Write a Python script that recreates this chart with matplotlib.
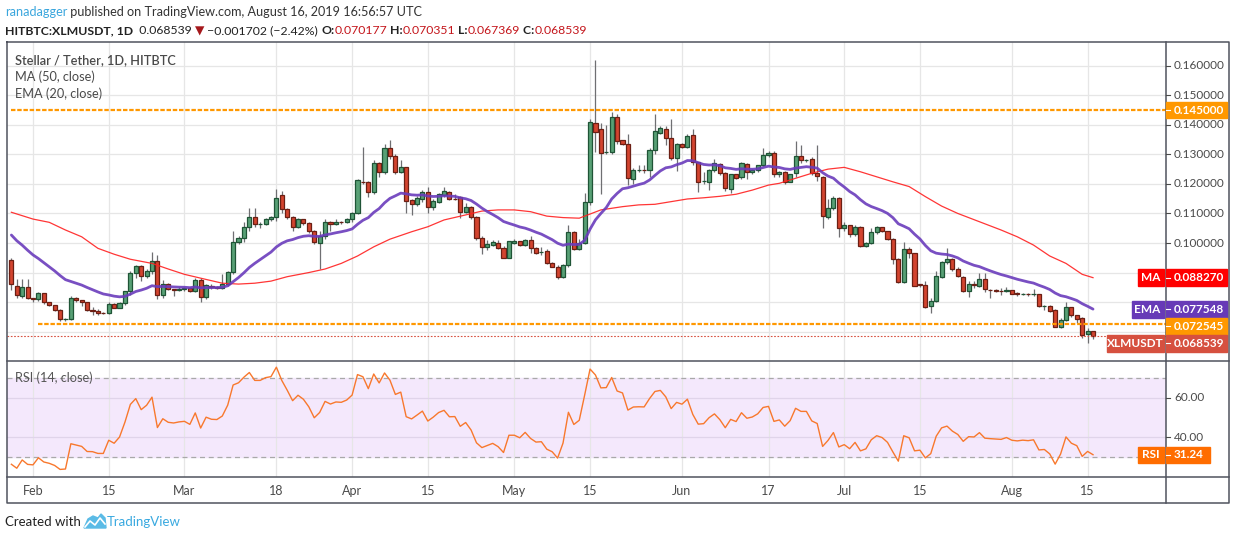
import numpy as np
import pandas as pd
import matplotlib
matplotlib.use("Agg")
import matplotlib.pyplot as plt
from matplotlib.patches import Rectangle, Polygon

plt.rcParams['font.family'] = ['Lato', 'DejaVu Sans']

W, H = 1234, 540

# daily XLM/USDT candles (HitBTC), 2019-01-28 .. 2019-08-16
opens = [
    0.0943, 0.0856, 0.0822, 0.0850, 0.0813, 0.0809, 0.0830, 0.0800, 0.0789, 0.0773,
    0.0742, 0.0742, 0.0813, 0.0806, 0.0799, 0.0772, 0.0771, 0.0763, 0.0762, 0.0793,
    0.0781, 0.0796, 0.0836, 0.0897, 0.0921, 0.0887, 0.0904, 0.0938, 0.0823, 0.0860,
    0.0844, 0.0842, 0.0845, 0.0847, 0.0836, 0.0875, 0.0818, 0.0856, 0.0850, 0.0849,
    0.0861, 0.0901, 0.1002, 0.1016, 0.1053, 0.1087, 0.1064, 0.1064, 0.1081, 0.1087,
    0.1161, 0.1116, 0.1087, 0.1055, 0.1080, 0.1067, 0.1040, 0.0999, 0.1023, 0.1072,
    0.1063, 0.1072, 0.1072, 0.1080, 0.1100, 0.1208, 0.1207, 0.1172, 0.1270, 0.1241,
    0.1320, 0.1295, 0.1241, 0.1256, 0.1146, 0.1131, 0.1148, 0.1172, 0.1121, 0.1140,
    0.1161, 0.1172, 0.1150, 0.1155, 0.1106, 0.1121, 0.1087, 0.1018, 0.0985, 0.0994,
    0.0999, 0.0984, 0.0950, 0.1001, 0.1006, 0.0993, 0.1011, 0.0984, 0.0968, 0.0972,
    0.0933, 0.0920, 0.0886, 0.0925, 0.1036, 0.0981, 0.0999, 0.1138, 0.1405, 0.1386,
    0.1309, 0.1309, 0.1425, 0.1348, 0.1334, 0.1216, 0.1248, 0.1248, 0.1246, 0.1314,
    0.1373, 0.1385, 0.1354, 0.1287, 0.1334, 0.1324, 0.1364, 0.1273, 0.1210, 0.1207,
    0.1246, 0.1266, 0.1236, 0.1183, 0.1232, 0.1223, 0.1266, 0.1239, 0.1246, 0.1263,
    0.1297, 0.1303, 0.1232, 0.1239, 0.1207, 0.1236, 0.1294, 0.1280, 0.1283, 0.1238,
    0.1224, 0.1087, 0.1117, 0.1151, 0.1050, 0.1060, 0.1029, 0.1055, 0.0991, 0.0999,
    0.1036, 0.1053, 0.1040, 0.1013, 0.0947, 0.0869, 0.0980, 0.0965, 0.0860, 0.0858,
    0.0788, 0.0803, 0.0884, 0.0935, 0.0945, 0.0911, 0.0886, 0.0838, 0.0861, 0.0856,
    0.0877, 0.0842, 0.0840, 0.0838, 0.0836, 0.0840, 0.0830, 0.0826, 0.0828, 0.0826,
    0.0826, 0.0786, 0.0788, 0.0772, 0.0717, 0.0739, 0.0782, 0.0755, 0.0745, 0.0691,
    0.070177,
]
highs = [
    0.0948, 0.0877, 0.0877, 0.0877, 0.0815, 0.0835, 0.0832, 0.0802, 0.0790, 0.0775,
    0.0746, 0.0822, 0.0818, 0.0808, 0.0800, 0.0785, 0.0775, 0.0766, 0.0802, 0.0796,
    0.0800, 0.0838, 0.0906, 0.0924, 0.0926, 0.0912, 0.0971, 0.0960, 0.0875, 0.0865,
    0.0846, 0.0850, 0.0850, 0.0850, 0.0880, 0.0880, 0.0862, 0.0860, 0.0853, 0.0895,
    0.0905, 0.1040, 0.1025, 0.1070, 0.1120, 0.1118, 0.1070, 0.1085, 0.1090, 0.1183,
    0.1175, 0.1120, 0.1090, 0.1085, 0.1082, 0.1070, 0.1045, 0.1040, 0.1080, 0.1075,
    0.1080, 0.1075, 0.1085, 0.1105, 0.1215, 0.1325, 0.1210, 0.1280, 0.1275, 0.1336,
    0.1349, 0.1300, 0.1281, 0.1258, 0.1148, 0.1160, 0.1180, 0.1189, 0.1150, 0.1170,
    0.1190, 0.1176, 0.1165, 0.1160, 0.1135, 0.1125, 0.1090, 0.1025, 0.1010, 0.1010,
    0.1010, 0.0990, 0.1008, 0.1015, 0.1008, 0.1015, 0.1025, 0.0986, 0.0985, 0.0980,
    0.0935, 0.0925, 0.0930, 0.1060, 0.1040, 0.1015, 0.1168, 0.1420, 0.1619, 0.1405,
    0.1400, 0.1442, 0.1435, 0.1350, 0.1370, 0.1255, 0.1265, 0.1265, 0.1320, 0.1435,
    0.1395, 0.1395, 0.1420, 0.1340, 0.1340, 0.1370, 0.1385, 0.1275, 0.1240, 0.1250,
    0.1285, 0.1270, 0.1240, 0.1235, 0.1235, 0.1275, 0.1270, 0.1250, 0.1265, 0.1320,
    0.1310, 0.1310, 0.1245, 0.1245, 0.1235, 0.1346, 0.1331, 0.1285, 0.1290, 0.1330,
    0.1226, 0.1150, 0.1160, 0.1155, 0.1070, 0.1062, 0.1060, 0.1058, 0.1002, 0.1050,
    0.1058, 0.1055, 0.1042, 0.1018, 0.0950, 0.1005, 0.0985, 0.0967, 0.0862, 0.0870,
    0.0815, 0.0905, 0.0940, 0.0982, 0.0950, 0.0920, 0.0890, 0.0871, 0.0873, 0.0900,
    0.0900, 0.0845, 0.0845, 0.0848, 0.0850, 0.0842, 0.0833, 0.0830, 0.0830, 0.0843,
    0.0827, 0.0790, 0.0790, 0.0775, 0.0745, 0.0801, 0.0785, 0.0757, 0.0748, 0.0712,
    0.070351,
]
lows = [
    0.0842, 0.0813, 0.0813, 0.0810, 0.0800, 0.0805, 0.0795, 0.0786, 0.0770, 0.0735,
    0.0735, 0.0738, 0.0800, 0.0787, 0.0770, 0.0757, 0.0757, 0.0760, 0.0760, 0.0779,
    0.0779, 0.0790, 0.0825, 0.0880, 0.0870, 0.0880, 0.0895, 0.0810, 0.0815, 0.0840,
    0.0820, 0.0838, 0.0838, 0.0833, 0.0833, 0.0801, 0.0812, 0.0845, 0.0845, 0.0845,
    0.0855, 0.0895, 0.0996, 0.1005, 0.1040, 0.1055, 0.1050, 0.1060, 0.1075, 0.1075,
    0.1100, 0.1080, 0.1040, 0.1050, 0.1060, 0.1035, 0.0995, 0.0912, 0.1015, 0.1040,
    0.1060, 0.1065, 0.1068, 0.1072, 0.1098, 0.1200, 0.1155, 0.1165, 0.1225, 0.1235,
    0.1285, 0.1235, 0.1236, 0.1100, 0.1095, 0.1125, 0.1140, 0.1100, 0.1110, 0.1135,
    0.1155, 0.1145, 0.1145, 0.1084, 0.1100, 0.1080, 0.1010, 0.0963, 0.0975, 0.0990,
    0.0980, 0.0948, 0.0948, 0.0998, 0.0990, 0.0990, 0.0965, 0.0963, 0.0960, 0.0930,
    0.0918, 0.0877, 0.0880, 0.0920, 0.0975, 0.0978, 0.0995, 0.1130, 0.1309, 0.1165,
    0.1300, 0.1300, 0.1335, 0.1330, 0.1197, 0.1200, 0.1240, 0.1238, 0.1225, 0.1300,
    0.1370, 0.1330, 0.1280, 0.1245, 0.1320, 0.1320, 0.1265, 0.1174, 0.1200, 0.1180,
    0.1240, 0.1230, 0.1175, 0.1170, 0.1215, 0.1215, 0.1215, 0.1235, 0.1240, 0.1260,
    0.1290, 0.1225, 0.1225, 0.1200, 0.1205, 0.1225, 0.1270, 0.1275, 0.1230, 0.1210,
    0.1050, 0.1080, 0.1110, 0.1020, 0.1040, 0.1020, 0.1025, 0.0988, 0.0988, 0.0995,
    0.1030, 0.1038, 0.1010, 0.0930, 0.0865, 0.0865, 0.0950, 0.0853, 0.0850, 0.0780,
    0.0764, 0.0800, 0.0880, 0.0930, 0.0905, 0.0885, 0.0835, 0.0818, 0.0848, 0.0850,
    0.0835, 0.0813, 0.0833, 0.0825, 0.0833, 0.0826, 0.0822, 0.0823, 0.0822, 0.0820,
    0.0785, 0.0773, 0.0766, 0.0715, 0.0713, 0.0735, 0.0750, 0.0728, 0.0677, 0.0663,
    0.067369,
]
closes = [
    0.0860, 0.0824, 0.0850, 0.0813, 0.0809, 0.0830, 0.0799, 0.0789, 0.0773, 0.0742,
    0.0743, 0.0813, 0.0806, 0.0799, 0.0772, 0.0771, 0.0762, 0.0762, 0.0793, 0.0781,
    0.0796, 0.0836, 0.0897, 0.0921, 0.0887, 0.0904, 0.0938, 0.0823, 0.0860, 0.0844,
    0.0841, 0.0845, 0.0847, 0.0836, 0.0875, 0.0818, 0.0858, 0.0850, 0.0849, 0.0861,
    0.0901, 0.1002, 0.1016, 0.1053, 0.1087, 0.1064, 0.1064, 0.1081, 0.1087, 0.1152,
    0.1116, 0.1087, 0.1053, 0.1080, 0.1067, 0.1042, 0.1002, 0.1023, 0.1072, 0.1063,
    0.1072, 0.1071, 0.1080, 0.1100, 0.1212, 0.1206, 0.1172, 0.1270, 0.1241, 0.1320,
    0.1295, 0.1241, 0.1256, 0.1143, 0.1131, 0.1151, 0.1172, 0.1123, 0.1142, 0.1165,
    0.1176, 0.1148, 0.1149, 0.1106, 0.1121, 0.1087, 0.1018, 0.0988, 0.0995, 0.1002,
    0.0984, 0.0950, 0.1006, 0.1006, 0.0994, 0.1011, 0.0984, 0.0967, 0.0968, 0.0933,
    0.0920, 0.0886, 0.0925, 0.1036, 0.0981, 0.0999, 0.1138, 0.1408, 0.1377, 0.1306,
    0.1309, 0.1425, 0.1346, 0.1334, 0.1219, 0.1246, 0.1248, 0.1247, 0.1314, 0.1378,
    0.1388, 0.1354, 0.1287, 0.1334, 0.1324, 0.1361, 0.1273, 0.1207, 0.1210, 0.1246,
    0.1270, 0.1236, 0.1185, 0.1232, 0.1219, 0.1270, 0.1239, 0.1246, 0.1263, 0.1298,
    0.1304, 0.1232, 0.1239, 0.1207, 0.1232, 0.1294, 0.1280, 0.1280, 0.1238, 0.1226,
    0.1092, 0.1117, 0.1151, 0.1050, 0.1060, 0.1029, 0.1055, 0.0991, 0.0999, 0.1036,
    0.1053, 0.1042, 0.1013, 0.0947, 0.0869, 0.0980, 0.0965, 0.0856, 0.0859, 0.0784,
    0.0803, 0.0888, 0.0935, 0.0945, 0.0911, 0.0888, 0.0838, 0.0860, 0.0858, 0.0877,
    0.0843, 0.0840, 0.0838, 0.0836, 0.0842, 0.0829, 0.0826, 0.0828, 0.0826, 0.0828,
    0.0787, 0.0788, 0.0769, 0.0717, 0.0739, 0.0782, 0.0755, 0.0744, 0.0690, 0.070241,
    0.068539,
]
dates = pd.date_range('2019-01-28', periods=len(closes), freq='D')

# MA(50): candle number (1 = Jan 28) -> value
ma50_day = [1, 5, 8, 11, 14, 17, 20, 23, 27, 30, 33, 36, 40, 43, 46, 49, 52, 56, 59, 62,
            65, 68, 71, 75, 78, 81, 85, 88, 91, 94, 97, 100, 103, 106, 110, 114, 117, 120,
            123, 126, 129, 132, 135, 138, 141, 143, 146, 149, 152, 155, 158, 161, 164,
            167, 170, 173, 176, 180, 184, 187, 190, 193, 196, 199, 201]
ma50_val = [0.1104, 0.1081, 0.1070, 0.1044, 0.1021, 0.0982, 0.0962, 0.0945, 0.0931, 0.0912,
            0.0894, 0.0881, 0.0864, 0.0861, 0.0864, 0.0871, 0.0886, 0.0900, 0.0912, 0.0931,
            0.0956, 0.0987, 0.1013, 0.1038, 0.1055, 0.1078, 0.1095, 0.1108, 0.1112, 0.1112,
            0.1106, 0.1091, 0.1086, 0.1084, 0.1112, 0.1123, 0.1129, 0.1131, 0.1140, 0.1149,
            0.1153, 0.1158, 0.1165, 0.1179, 0.1196, 0.1202, 0.1219, 0.1236, 0.1250, 0.1256,
            0.1241, 0.1224, 0.1207, 0.1191, 0.1157, 0.1125, 0.1100, 0.1072, 0.1044, 0.1021,
            0.0993, 0.0956, 0.0931, 0.0894, 0.08827]

ema20_first = 0.1027          # EMA(20) value at the first visible candle
rsi_gain0, rsi_loss0 = 0.0009, 0.0025   # Wilder averages before the first candle

# last values as printed on the scale badges
ma50_last = 0.088270
ema20_last = 0.077548
rsi_last = 31.24

level_top = 0.145
level_support = 0.072545
support_start = '2019-02-02'

date_ticks = ['2019-02-01', '2019-02-15', '2019-03-01', '2019-03-18', '2019-04-01',
              '2019-04-15', '2019-05-01', '2019-05-15', '2019-06-01', '2019-06-17',
              '2019-07-01', '2019-07-15', '2019-08-01', '2019-08-15']
date_labels = ['Feb', '15', 'Mar', '18', 'Apr', '15', 'May', '15', 'Jun', '17',
               'Jul', '15', 'Aug', '15']
price_ticks = [0.07, 0.08, 0.09, 0.10, 0.11, 0.12, 0.13, 0.14, 0.15, 0.16]
rsi_ticks = [40, 60]

# ---- indicators
c = np.array(closes)
o = np.array(opens)
ema = [ema20_first]
for v in c[1:]:
    ema.append(ema[-1] + (v - ema[-1]) * 2 / 21)
ema = np.array(ema)

ag, al = rsi_gain0, rsi_loss0
rsi = [100 - 100 / (1 + ag / al)]
for i in range(1, len(c)):
    d = c[i] - c[i - 1]
    ag = (ag * 13 + max(d, 0)) / 14
    al = (al * 13 + max(-d, 0)) / 14
    rsi.append(100 - 100 / (1 + ag / al))
rsi = np.array(rsi)

# ---- figure
fig = plt.figure(figsize=(W / 100, H / 100), dpi=100)
fig.patch.set_facecolor('white')

def fpos(x0, y0, x1, y1):
    return [x0 / W, 1 - y1 / H, (x1 - x0) / W, (y1 - y0) / H]

ax = fig.add_axes(fpos(7, 42, 1165.7, 361))
axr = fig.add_axes(fpos(7, 361, 1165.7, 476.7))
ov = fig.add_axes([0, 0, 1, 1])
ov.set_xlim(0, W)
ov.set_ylim(H, 0)
ov.axis('off')
ov.patch.set_alpha(0)

x = np.arange(len(c))
xlo, xhi = -0.81, 213.44
for a in (ax, axr):
    a.set_xlim(xlo, xhi)
    a.set_xticks([])
    a.set_yticks([])
    for s in a.spines.values():
        s.set_visible(False)
ax.set_ylim(0.06007, 0.16802)
axr.set_ylim(20.2, 78.6)

grid_c = '#e6e6e6'
tick_pos = [dates.get_loc(pd.Timestamp(d)) for d in date_ticks]
for tp in tick_pos:
    ax.axvline(tp, color=grid_c, lw=0.9, zorder=0)
    axr.axvline(tp, color=grid_c, lw=0.9, zorder=1)
for p in price_ticks:
    ax.axhline(p, color=grid_c, lw=0.9, zorder=0)

# candles
up = c >= o
fill = np.where(up, '#58a075', '#d3442f')
edge = np.where(up, '#1f5436', '#6b1f14')
ax.vlines(x, lows, highs, color='#6f6f72', lw=0.9, zorder=2)
ax.bar(x, c - o, bottom=o, width=0.76, color=fill, edgecolor=edge, linewidth=0.9, zorder=3)

# moving averages
ax.plot(np.array(ma50_day) - 1, ma50_val, color='#ff2020', lw=0.9, alpha=0.9, zorder=4)
ax.plot(x, ema, color='#6a3cbc', lw=2.0, alpha=0.9, zorder=4, solid_capstyle='round')

# horizontal levels
ax.plot([0, xhi], [level_top] * 2, color='#ff9800', lw=1.6, ls=(0, (2.0, 0.8)), zorder=5)
s0 = dates.get_loc(pd.Timestamp(support_start))
ax.plot([s0, xhi], [level_support] * 2, color='#ff9800', lw=1.6, ls=(0, (2.0, 0.8)), zorder=5)
ax.axhline(c[-1], color='#d6503f', lw=0.8, ls=(0, (1.5, 1.5)), zorder=5)

# RSI pane
axr.axhspan(30, 70, color='#f4e8fc', zorder=0)
for r in rsi_ticks:
    axr.axhline(r, color='#e0d4ea', lw=0.9, zorder=1)
for r in (30, 70):
    axr.axhline(r, color='#a9a9a9', lw=0.9, ls=(0, (4, 3)), zorder=2)
axr.plot(x, rsi, color='#f8782d', lw=1.0, zorder=3)

# ---- frame lines (pixel coords)
fc = '#50535e'
ov.plot([7, 1229, 1229, 7, 7], [42, 42, 503, 503, 42], color=fc, lw=1.1)
ov.plot([1165.7, 1165.7], [42, 503], color=fc, lw=1.1)
ov.plot([7, 1229], [361, 361], color=fc, lw=1.1)
ov.plot([7, 1229], [476.7, 476.7], color=fc, lw=1.1)

def ypix(a, v):
    return H - a.transData.transform((0, v))[1]

def xpix(a, v):
    return a.transData.transform((v, 0))[0]

txt_c = '#4a4a4a'
for tp, lab in zip(tick_pos, date_labels):
    ov.text(xpix(ax, tp), 491, lab, ha='center', va='center', fontsize=9, color=txt_c)

# price-scale badges, pushed apart like TradingView does
badges = [
    (level_top, None, '#ff9800', 0),
    (ma50_last, 'MA', '#ff0000', 26),
    (ema20_last, 'EMA', '#673ab7', 32),
    (level_support, None, '#ff9800', 0),
    (closes[-1], 'XLMUSDT', '#d6503f', 57),
]
ys = [ypix(ax, b[0]) for b in badges]
placed = {}
last = -1e9
for i in np.argsort(ys):
    placed[i] = max(ys[i], last + 17)
    last = placed[i]

for p in price_ticks:
    yp = ypix(ax, p)
    ov.plot([1165.7, 1170], [yp, yp], color=txt_c, lw=0.8)
    if min(abs(yp - v) for v in placed.values()) > 12:
        ov.text(1174, yp, f'{p:.6f}', ha='left', va='center', fontsize=8.5, color=txt_c)
for r in rsi_ticks:
    yp = ypix(axr, r)
    ov.plot([1165.7, 1170], [yp, yp], color=txt_c, lw=0.8)
    ov.text(1174, yp, f'{r:.2f}', ha='left', va='center', fontsize=8.5, color=txt_c)

def badge(yc, val_txt, name, col, wname, vw=61):
    ov.add_patch(Rectangle((1165.7, yc - 8.2), vw, 16.4, color=col, zorder=10))
    ov.plot([1165.7, 1170], [yc, yc], color='white', lw=0.8, zorder=11)
    ov.text(1174, yc, val_txt, ha='left', va='center', fontsize=8.5, color='white',
            weight='bold', zorder=11)
    if name:
        ov.add_patch(Rectangle((1163.5 - wname, yc - 8.2), wname, 16.4, color=col, zorder=10))
        ov.text(1163.5 - wname / 2, yc, name, ha='center', va='center', fontsize=8.5,
                color='white', weight='bold', zorder=11)

for i, (v, name, col, wn) in enumerate(badges):
    badge(placed[i], f'{v:.6f}', name, col, wn)

badge(ypix(axr, rsi_last), f'{rsi_last:.2f}', 'RSI', '#ff6d00', 26, vw=44)

# legends
ov.text(15, 60, 'Stellar / Tether, 1D, HITBTC', fontsize=9.2, color='#4a4a4a',
        weight='semibold', va='center')
ov.text(15, 77, 'MA (50, close)', fontsize=9.2, color='#4a4a4a', va='center')
ov.text(15, 94, 'EMA (20, close)', fontsize=9.2, color='#4a4a4a', va='center')
ov.text(15, 378, 'RSI (14, close)', fontsize=9.2, color='#555555', va='center')

# header
renderer = fig.canvas.get_renderer()

def run(xs, y, parts, size):
    for t, col, wt in parts:
        tt = ov.text(xs, y, t, fontsize=size, color=col, weight=wt, va='center')
        xs += tt.get_window_extent(renderer).width
    return xs

run(5, 12, [('ranadagger', '#3aa6dd', 'normal'),
            (' published on TradingView.com, August 16, 2019 16:56:57 UTC', '#333333', 'normal')],
    9.1)
red = '#c4161c'
run(5, 31, [('HITBTC:XLMUSDT, 1D', '#222222', 'bold'),
            ('  0.068539 ', '#222222', 'normal'),
            ('\u25bc', '#a5181c', 'normal'),
            (' \u22120.001702 (\u22122.42%) ', '#222222', 'normal'),
            ('O:', '#222222', 'bold'), ('0.070177', red, 'normal'),
            (' H:', '#222222', 'bold'), ('0.070351', red, 'normal'),
            (' L:', '#222222', 'bold'), ('0.067369', red, 'normal'),
            (' C:', '#222222', 'bold'), ('0.068539', red, 'normal')],
    8.8)

# footer
ov.text(5, 522, 'Created with', fontsize=9.5, color='#222222', va='center')
ov.add_patch(Polygon([(84, 528), (88, 519), (93, 516), (98, 518), (101, 514), (105, 518),
                      (106, 528)], closed=True, color='#5bbbe6'))
ov.plot([85, 90, 95, 100, 105], [527, 521, 525, 518, 524], color='white', lw=1.2)
ov.text(107, 522, 'TradingView', fontsize=9.5, color='#39a9e0', va='center')

fig.savefig('out.png', dpi=100)
